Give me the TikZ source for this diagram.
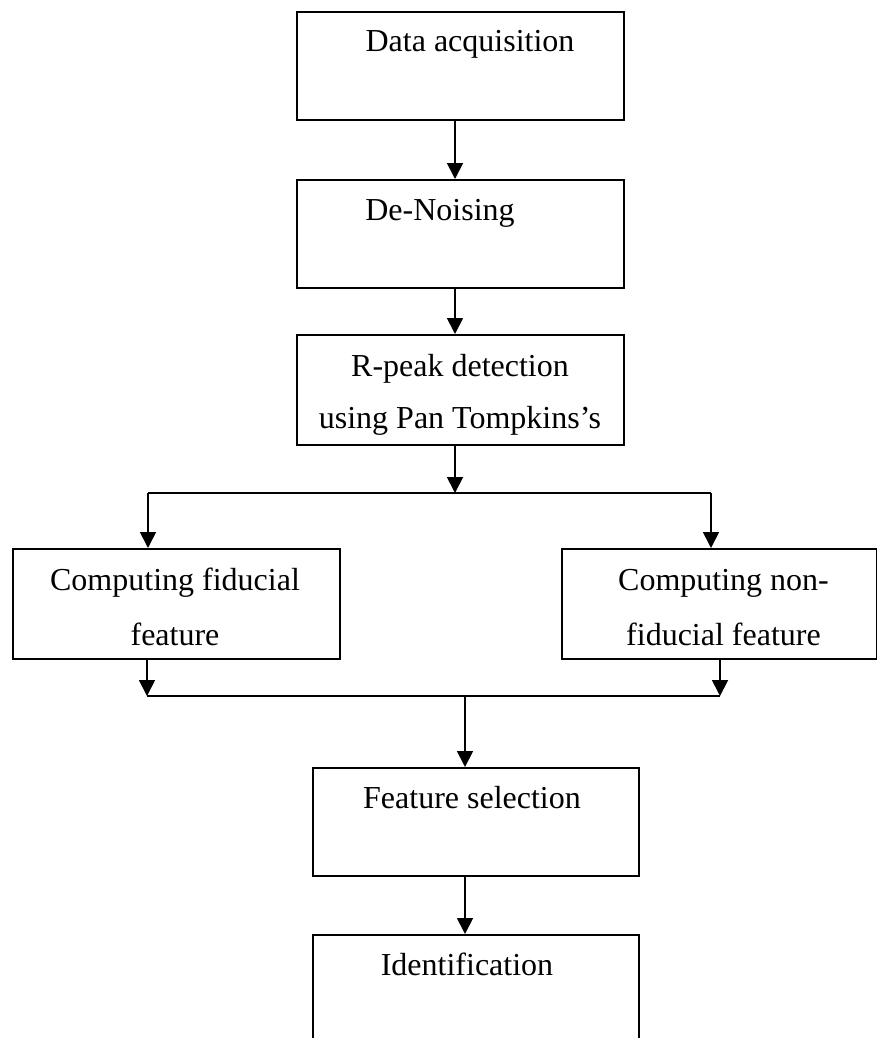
\documentclass[tikz,border=0pt]{standalone}
\usepackage{fontspec}
\setmainfont{Liberation Serif}
\usetikzlibrary{arrows.meta}
\begin{document}
\begin{tikzpicture}[x=0.5pt,y=-0.5pt,
  box/.style={draw,line width=1.1pt,inner sep=0pt,anchor=north west},
  txt/.style={anchor=base,inner sep=0pt,font=\fontsize{16}{19}\selectfont},
  arr/.style={line width=0.9pt,-{Triangle[length=8pt,width=8pt]}},
  ln/.style={line width=0.9pt}]
\useasboundingbox (0,0) rectangle (877,1038);
% boxes
\node[box,minimum width=163.5pt,minimum height=54pt] (b1) at (296,11) {};
\node[box,minimum width=163.5pt,minimum height=54pt] (b2) at (296,179) {};
\node[box,minimum width=163.5pt,minimum height=55pt] (b3) at (296,334) {};
\node[box,minimum width=163.5pt,minimum height=55pt] (bl) at (12,548) {};
\node[box,minimum width=157.5pt,minimum height=55pt] (br) at (561,548) {};
\node[box,minimum width=163pt,minimum height=54pt] (b4) at (312,767) {};
\node[box,minimum width=163pt,minimum height=63pt] (b5) at (312,934) {};
% texts
\node[txt] (t1) at (470,52) {Data acquisition};
\node[txt] (t2) at (440,220) {De-Noising};
\node[txt] (t3a) at (460,376) {R-peak detection};
\node[txt] (t3b) at (460,428) {using Pan Tompkins’s};
\node[txt] (tla) at (175,590) {Computing fiducial};
\node[txt] (tlb) at (175,645) {feature};
\node[txt] (tra) at (723.5,590) {Computing non-};
\node[txt] (trb) at (723.5,645) {fiducial feature};
\node[txt] (t4) at (472,808) {Feature selection};
\node[txt] (t5) at (467,975) {Identification};
% connectors
\coordinate (c1) at (455,0);
\draw[arr] (b1.south -| c1) -- (b2.north -| c1);
\draw[arr] (b2.south -| c1) -- (b3.north -| c1);
\coordinate (split) at (455,493);
\draw[arr] (b3.south -| c1) -- (split);
\coordinate (sl) at (148,493);
\coordinate (sr) at (711,493);
\draw[ln] (sl) -- (sr);
\draw[arr] (sl) -- (sl |- bl.north);
\draw[arr] (sr) -- (sr |- br.north);
\coordinate (ml) at (147,696);
\coordinate (mr) at (720,696);
\draw[arr] (bl.south -| ml) -- (ml);
\draw[arr] (br.south -| mr) -- (mr);
\draw[ln] (ml) -- (mr);
\coordinate (mc) at (465,696);
\draw[arr] (mc) -- (mc |- b4.north);
\draw[arr] (b4.south -| mc) -- (b5.north -| mc);
\end{tikzpicture}
\end{document}
